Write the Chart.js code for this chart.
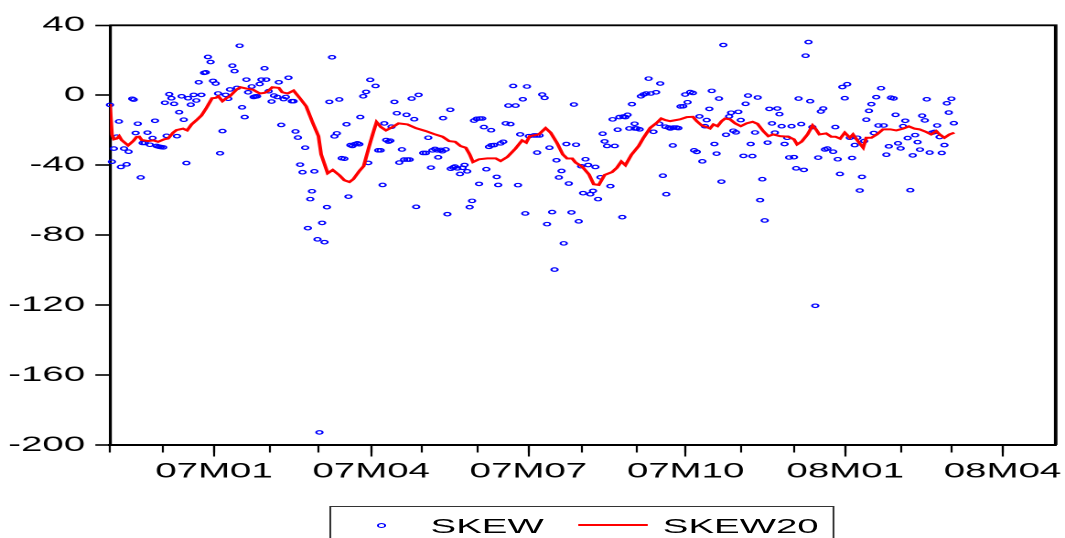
<!DOCTYPE html>
<html>
<head>
<meta charset="utf-8">
<script src="https://cdn.jsdelivr.net/npm/chart.js@4/dist/chart.umd.min.js"></script>
<style>
  html, body { margin: 0; padding: 0; background: #fff; overflow: hidden; width: 1065px; height: 538px; }
  #wrap { position: absolute; left: 0; top: 0; width: 582px; height: 538px; transform: scaleX(1.8299); transform-origin: 0 0; }
  #c { position: absolute; left: 0; top: 0; }
  #legend { position: absolute; left: 180.3px; top: 506px; width: 276px; height: 50px; box-sizing: border-box;
            border: 1.3px solid #333; font-family: "Liberation Sans", Arial, sans-serif; font-size: 21px; line-height: 21px; color: #000; }
  #legend .dot { position: absolute; left: 24.5px; top: 15.9px; width: 5px; height: 5px; box-sizing: border-box;
                 border: 1px solid #0000ff; border-radius: 50%; }
  #legend .ln { position: absolute; left: 134.3px; top: 17.3px; width: 38.5px; height: 1.8px; background: #ff0000; }
  #legend .t { position: absolute; top: 8.3px; white-space: nowrap; }
</style>
</head>
<body>
<div id="wrap">
  <canvas id="c" width="582" height="538"></canvas>
  <div id="legend">
    <span class="dot"></span><span class="t" style="left:54px">SKEW</span>
    <span class="ln"></span><span class="t" style="left:180.9px">SKEW20</span>
  </div>
</div>
<script>
// x = business-day observation counted from 2006-11-01
const monthTicks = [0, 22, 43, 66, 86, 108, 129, 152, 173, 195, 218, 238, 261, 283, 304, 327, 348, 369];
const labelTicks = [43, 108, 173, 238, 304, 369];
const tickLabels = ['07M01', '07M04', '07M07', '07M10', '08M01', '08M04'];

const skew = [
  [0,-5.5],[0.8,-38],[1.6,-30.5],[2.8,-23.7],[3.7,-15],[4.5,-41],[5.8,-30.5],[6.9,-39.5],[7.7,-32.3],[9.2,-2],
  [9.8,-2.5],[10.6,-21.6],[11.5,-16.3],[12.7,-47],[13.5,-27.3],[14.4,-27.3],[15.5,-21.4],[16.5,-28.3],[17.6,-24.5],[18.6,-14.6],
  [19.3,-29],[20.2,-29.4],[21,-29.6],[22,-29.8],[22.7,-4.3],[23.4,-23.2],[24.5,0.6],[25.4,-1.7],[26.5,-4.9],[27.7,-23.4],
  [28.6,-9.7],[29.6,-0.6],[30.5,-14],[31.6,-38.8],[32.3,-1.7],[33.4,-5.4],[34.6,0.2],[35.7,-3],[36.7,7.4],[37.8,0.2],
  [38.9,12.8],[39.6,13.1],[40.5,21.9],[41.6,19],[42.6,8.2],[43.7,6.7],[44.7,1],[45.5,-33.2],[46.5,-20.5],[47.8,0.2],
  [48.9,-2],[49.6,3.3],[50.6,16.9],[51.5,13.8],[52.5,4.2],[53.6,28.3],[54.6,-6.9],[55.7,-12.5],[56.4,8.9],[57.1,1.7],
  [58.6,5],[59.4,-1],[60.1,-0.7],[60.8,-0.6],[61.9,6.4],[62.6,8.9],[63.9,15.4],[64.6,8.9],[65.6,2.3],[66.8,-3.6],
  [67.8,-0.2],[69.2,-1],[69.8,7.4],[70.8,-17],[71.8,-2.2],[72.7,-1],[73.8,10],[75.2,-3.4],[75.9,-3.4],[76.7,-20.7],
  [77.7,-24.2],[78.6,-39.7],[79.6,-44],[80.7,-30],[81.8,-76],[82.8,-59.4],[83.5,-54.9],[84.5,-43.5],[85.8,-82.4],[86.6,-192.8],
  [87.7,-73],[88.7,-84],[89.7,-64],[90.7,-3.8],[91.8,21.7],[92.8,-23.5],[93.8,-21.8],[94.8,-2.4],[95.8,-36],[96.9,-36.3],
  [97.8,-16.6],[98.6,-58],[99.4,-28.5],[100.2,-29],[101.2,-28],[102.3,-27.5],[103.1,-28],[103.5,-12.5],[104.7,-0.6],[105.9,1.9],
  [106.8,-38.7],[107.6,8.8],[109.8,5.3],[110.9,-31.5],[111.9,-31.5],[112.7,-51.3],[113.4,-16.1],[114.2,-25.6],[115.2,-26.5],[115.9,-26],
  [116.4,-18],[117.6,-3.8],[118.6,-10.3],[119.6,-38.5],[120.7,-31],[121.6,-36.8],[122.6,-11.2],[122.9,-36.8],[123.9,-36.8],[124.7,-1.9],
  [125.8,-13.7],[126.6,-63.8],[127.6,0.2],[129.5,-33],[130.6,-33],[131.6,-24.3],[132.7,-41.4],[133.3,-31.5],[134.4,-30.7],[135.4,-31.5],
  [135.7,-35.5],[136.8,-31.3],[137.4,-32],[137.7,-13.1],[138.8,-31],[139.5,-68],[140.7,-8.3],[140.9,-42],[141.9,-41.3],[142.6,-40.8],
  [143.6,-41.8],[144.7,-45],[145.8,-41.5],[146.6,-39.9],[147.7,-43.5],[148.7,-64],[149.7,-60.4],[150.5,-14.5],[151.6,-13.5],[152.6,-50.7],
  [152.9,-13.3],[153.9,-13.3],[154.6,-18.2],[155.6,-42.3],[156.7,-29.5],[157.6,-20],[157.7,-28.6],[158.8,-28.5],[159.9,-46.7],[160.5,-51.3],
  [161.5,-27.5],[162.6,-26.6],[163.6,-16.1],[164.7,-5.9],[165.6,-16.5],[166.7,5.3],[167.7,-5.9],[168.7,-51.4],[169.6,-22.4],[170.7,-2.3],
  [171.7,-67.6],[172.4,5],[173.2,-23.4],[175.3,-23],[176.4,-23],[176.6,-32.8],[177.6,-23],[178.7,0.4],[179.7,-1.5],[180.7,-73.7],
  [181.7,-30],[182.8,-66.8],[183.8,-99.7],[184.6,-37.2],[185.6,-47],[186.7,-43.3],[187.6,-84.7],[188.7,-27.9],[189.7,-50.5],[190.8,-67],
  [191.8,-5.3],[192.7,-28.3],[193.8,-72.1],[194.8,-40.6],[195.6,-56],[196.6,-36.6],[197.7,-39.9],[198.6,-56.6],[199.7,-54.7],[200.7,-41],
  [201.8,-59.4],[202.8,-46.9],[203.7,-22],[204.5,-26.4],[205.5,-29],[206.9,-52],[207.8,-13.8],[208.7,-29],[209.9,-19.7],[210.6,-12.5],
  [211.8,-69.7],[212.2,-12.2],[213.1,-12.5],[214,-11.2],[214.7,-19],[215.8,-5.1],[216.9,-16.3],[217,-19],[217.8,-19],[219,-19.5],
  [219.5,-0.6],[220.6,0.4],[221.7,1],[222.7,9.5],[223.6,1],[224.7,-20.9],[225.8,1.7],[227.1,-16.3],[227.5,6.7],[228.6,-46],
  [229.6,-18],[230,-56.6],[231,-18.5],[231.7,-19],[232.7,-28.7],[233,-18.5],[234.2,-18.5],[235,-18.8],[235.9,-6.4],[237,-6.3],
  [237.8,0.4],[238.8,-4],[239.9,1.8],[241,1.3],[241.5,-31.5],[242.6,-32.4],[243.7,-12.1],[244.9,-37.8],[246,-17.7],[246.7,-14.2],
  [247.8,-7.8],[248.8,2.5],[249.9,-27.9],[250.8,-33.4],[251.8,-1.9],[252.8,-49.4],[253.6,28.7],[254.7,-22.6],[256,-12.1],[256.8,-10],
  [257.7,-20.3],[258.8,-21.2],[259.8,-9.5],[260.8,-14.2],[261.9,-34.7],[262.8,-4.9],[263.8,-0.2],[264.9,-27.9],[265.6,-34.8],[266.7,-21.3],
  [267.8,-1.3],[268.8,-60],[269.7,-48],[270.7,-71.6],[271.9,-27.1],[272.6,-7.8],[273.7,-16.1],[274.9,-21.4],[275.9,-7.6],[276.8,-10.8],
  [277.7,-17.7],[278.9,-27.9],[280,-24.3],[280.8,-35.6],[281.8,-17.7],[282.8,-35.4],[283.7,-41.8],[284.7,-1.9],[285.8,-16.5],[286.9,-42.7],
  [287.6,22.6],[288.8,30.4],[289.5,-3.4],[290.4,-18.2],[291.6,-120.4],[292.8,-35.7],[293.9,-9.3],[294.9,-7.6],[295.6,-31],[296.6,-30.5],
  [299,-32.3],[299.9,-18.2],[300.9,-36.6],[301.8,-45],[302.8,4.7],[303.8,-1.7],[304.8,6.3],[305.9,-24.3],[306.8,-35.9],[307.9,-28.5],
  [309,-24.3],[310,-54.5],[310.9,-46.7],[311.8,-26.2],[312.7,-14],[313.8,-8.9],[314.8,-5.1],[315.8,-21.6],[316.8,-1.1],[317.7,-17.3],
  [318.8,4],[319.9,-17.3],[321,-34],[322,-29.2],[322.9,-1.4],[324,-1.8],[324.8,-11.2],[325.8,-27.5],[326.9,-30.4],[327.9,-17.7],
  [328.8,-14.6],[329.8,-24.5],[330.9,-54.3],[331.9,-34.4],[332.9,-22.8],[333.9,-26.8],[334.9,-31.1],[335.8,-11.7],[336.9,-14.4],[337.7,-2.3],
  [338.9,-32.8],[339.9,-21.4],[340.9,-21],[342,-17.3],[343,-23.9],[343.9,-33],[345,-28.5],[346,-4.6],[346.8,-9.9],[347.9,-2],
  [348.9,-16]
];

const skew20 = [
  [0,-5],[0.8,-22.4],[1.6,-25.2],[2.8,-24.8],[3.8,-23.4],[4.8,-25.6],[7.5,-28.7],[9.6,-26.2],[11,-23.9],[12.1,-23.7],
  [13.1,-25.6],[15.8,-26.2],[17.9,-25.8],[19.9,-26.6],[22.4,-25.2],[24,-24.8],[26.1,-21.4],[27.5,-19.9],[30.2,-19.1],[31.9,-20.1],
  [33.7,-16.7],[35.8,-14.2],[37.8,-11.6],[39.9,-7.2],[42.2,-1.7],[43.7,-1.5],[44.8,-0.6],[46.5,-3.4],[48.1,-1.7],[49.5,-0.6],
  [52.3,3.2],[53.9,4.6],[56.4,3.8],[59.1,3.2],[61.9,1],[63.9,1.4],[65.3,2.3],[67.1,4.6],[69.8,4.2],[71.2,1.7],
  [73.5,1],[75.9,2.7],[78.4,-1.5],[81.1,-6.3],[83.8,-15.7],[86.2,-23.4],[87.3,-33.8],[90,-44.6],[92.1,-42.7],[94.9,-45.8],
  [96.9,-48.6],[99,-49.6],[100.6,-48],[103.1,-43.3],[104.9,-40.5],[107.2,-29],[108.6,-22.4],[110.2,-15.3],[112,-18.2],[114.1,-20.1],
  [116.8,-18.2],[119.3,-16.1],[123,-16.7],[126.5,-18.8],[130.6,-20.5],[134,-22.2],[137.5,-23.7],[140.2,-26.2],[142.7,-26.6],[145,-29.1],
  [147.1,-30],[148.7,-33.8],[150.1,-38.2],[152.6,-36.6],[156,-36.1],[159.5,-36.1],[161.5,-37.6],[164.3,-35.3],[167.7,-30.4],[170.4,-25.8],
  [172.1,-27.1],[173.5,-23.4],[177.3,-22.4],[180.1,-18.8],[182.2,-21.4],[184.9,-27.5],[187.2,-33.8],[189,-36.2],[191.1,-36.2],[192.5,-38.5],
  [195.2,-40.8],[198,-45.2],[200,-50.9],[202.1,-51.3],[204.5,-45.6],[207.6,-43.9],[209.6,-41.4],[211.4,-37.9],[213.1,-40],[215.6,-34],
  [218.6,-29],[220.6,-24.3],[223.4,-18.6],[226.1,-15.7],[227.9,-13.3],[229.6,-14.2],[231.6,-14.8],[235.7,-13.8],[238.5,-12.5],[241,-12.3],
  [242.6,-14.8],[244.7,-17.3],[246.7,-18.2],[248.1,-19],[249.5,-16.7],[251.2,-17.7],[252.9,-14.8],[254.3,-13.3],[256.4,-13.8],[258.5,-16.1],
  [260.8,-17.7],[263.2,-16.1],[265.7,-15.2],[267.7,-16.3],[270.1,-20.5],[272.2,-23.4],[274.2,-22.4],[277,-23.4],[280.4,-23.7],[282.8,-25.2],
  [284.1,-28.1],[286,-26.5],[288.4,-22.4],[290.5,-17.3],[291.9,-19.5],[293.3,-22.4],[296.1,-21.8],[298.2,-23.7],[300,-23.7],[301.9,-24.8],
  [303.8,-21.4],[305.9,-24.3],[307.2,-22.4],[309.7,-27.1],[311.4,-30],[312.7,-24.3],[314.8,-24.3],[317.1,-22.4],[319.6,-19.5],[322.6,-19.5],
  [325.1,-20.1],[327.9,-19.1],[330.3,-17.8],[332.7,-19.1],[334.7,-19.5],[337.5,-21],[339.5,-22.4],[341.6,-20.5],[343,-22.4],[345,-24.3],
  [347.1,-22.4],[349.1,-21.4]
];

Chart.defaults.font.family = '"Liberation Sans", Arial, sans-serif';
Chart.defaults.color = '#000';

// top and right edges of the plot frame
const framePlugin = {
  id: 'frame',
  afterDraw(chart) {
    const { ctx, chartArea: a } = chart;
    ctx.save();
    ctx.strokeStyle = '#000';
    ctx.lineWidth = 1.9;
    ctx.beginPath();
    ctx.moveTo(a.left, a.top);
    ctx.lineTo(a.right, a.top);
    ctx.lineTo(a.right, a.bottom);
    ctx.stroke();
    ctx.restore();
  },
};

new Chart(document.getElementById('c'), {
  type: 'scatter',
  data: {
    datasets: [
      {
        type: 'line',
        label: 'SKEW20',
        data: skew20.map((p) => ({ x: p[0], y: p[1] })),
        xAxisID: 'x',
        yAxisID: 'y',
        borderColor: '#ff0000',
        borderWidth: 2,
        pointRadius: 0,
        tension: 0,
        fill: false,
        order: 1,
      },
      {
        type: 'scatter',
        label: 'SKEW',
        data: skew.map((p) => ({ x: p[0], y: p[1] })),
        xAxisID: 'x',
        yAxisID: 'y',
        pointStyle: 'circle',
        pointRadius: 1.75,
        borderWidth: 1.1,
        borderColor: '#0000ff',
        backgroundColor: 'rgba(0,0,0,0)',
        clip: false,
        order: 2,
      },
    ],
  },
  options: {
    responsive: false,
    animation: false,
    devicePixelRatio: 2,
    layout: { padding: { left: 0, right: 3.65, top: 25.3, bottom: 53 } },
    plugins: { legend: { display: false }, tooltip: { enabled: false } },
    scales: {
      x: {
        type: 'linear',
        position: 'bottom',
        min: 0,
        max: 391,
        afterBuildTicks: (s) => { s.ticks = labelTicks.map((v) => ({ value: v })); },
        afterFit: (s) => { s.height = 40; s.paddingLeft = 0; s.paddingRight = 0; },
        ticks: {
          autoSkip: false,
          maxRotation: 0,
          minRotation: 0,
          padding: 4.5,
          color: '#000',
          font: { size: 21, lineHeight: 1 },
          callback: (v) => { const i = labelTicks.indexOf(v); return i >= 0 ? tickLabels[i] : ''; },
        },
        grid: { drawOnChartArea: false, drawTicks: true, tickLength: 11.5, tickWidth: 1.1, tickColor: '#000' },
        border: { display: true, color: '#000', width: 2 },
      },
      xm: {
        type: 'linear',
        position: { y: -200 },
        min: 0,
        max: 391,
        afterBuildTicks: (s) => { s.ticks = monthTicks.map((v) => ({ value: v })); },
        afterFit: (s) => { s.paddingLeft = 0; s.paddingRight = 0; },
        ticks: { autoSkip: false, maxRotation: 0, callback: () => '' },
        grid: { drawOnChartArea: false, drawTicks: true, tickLength: 7.5, tickWidth: 1.1, tickColor: '#000' },
        border: { display: false },
      },
      y: {
        type: 'linear',
        position: 'left',
        min: -200,
        max: 40,
        afterFit: (s) => { s.width = 60.1; },
        ticks: { stepSize: 40, padding: 5.6, color: '#000', font: { size: 21, lineHeight: 1 }, callback: (v) => String(v) },
        grid: { drawOnChartArea: false, drawTicks: true, tickLength: 8, tickWidth: 1.6, tickColor: '#000' },
        border: { display: true, color: '#000', width: 1.6 },
      },
    },
  },
  plugins: [framePlugin],
});
</script>
</body>
</html>
